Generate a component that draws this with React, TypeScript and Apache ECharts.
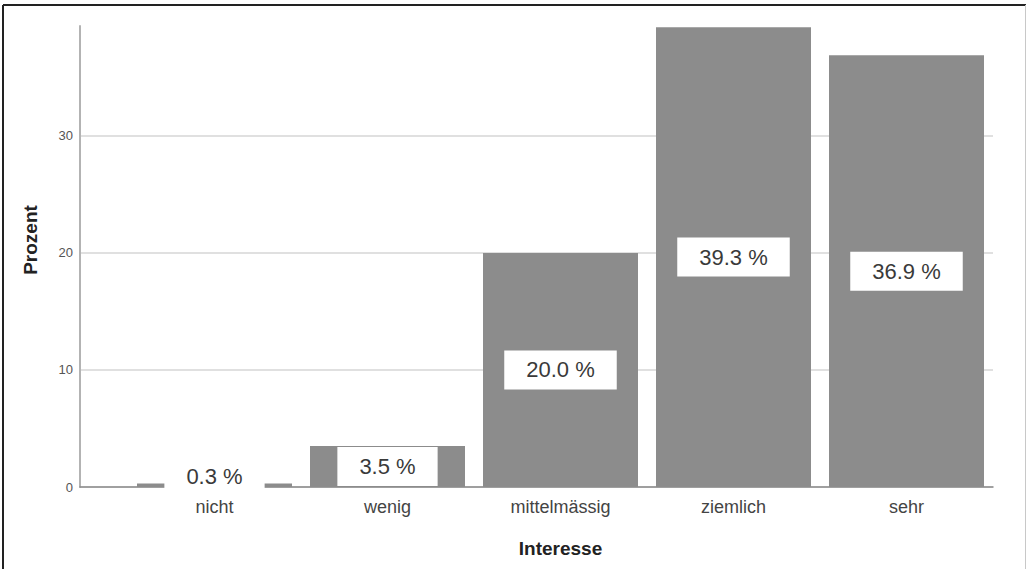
import React, { useEffect, useRef } from "react";
import * as echarts from "echarts";

const categories = ["nicht", "wenig", "mittelmässig", "ziemlich", "sehr"];
const percentValues = [0.3, 3.5, 20.0, 39.3, 36.9];
const yTicks = [0, 10, 20, 30];
const yMax = 39.4;

const FONT = "Liberation Sans, Arial, sans-serif";

export default function App() {
  const ref = useRef<HTMLDivElement>(null);
  useEffect(() => {
    if (!ref.current) return;
    const chart = echarts.init(ref.current, null, { renderer: "svg" });
    const top = 26;
    const bottom = 82;
    const barData = percentValues.map((v, i) =>
      i === 0 ? { value: v, label: { offset: [0, -9] } } : { value: v }
    );
    chart.setOption({
      animation: false,
      backgroundColor: "#ffffff",
      grid: [
        { left: 80, right: 34, top, bottom },
        { left: 128, right: 34, top, bottom },
      ],
      xAxis: [
        {
          gridIndex: 0,
          type: "value",
          min: 0,
          max: 1,
          axisLine: { show: true, onZero: false, lineStyle: { color: "#8a8a8a", width: 1.5 } },
          axisTick: { show: false },
          axisLabel: { show: false },
          splitLine: { show: false },
        },
        {
          gridIndex: 1,
          type: "category",
          data: categories,
          axisLine: { show: false },
          axisTick: { show: false },
          axisLabel: {
            margin: 11,
            fontFamily: FONT,
            fontSize: 18,
            color: "#444444",
          },
          name: "Interesse",
          nameLocation: "middle",
          nameGap: 52,
          nameTextStyle: {
            fontFamily: FONT,
            fontSize: 19,
            fontWeight: "bold",
            color: "#222222",
          },
        },
      ],
      yAxis: [
        {
          gridIndex: 0,
          type: "value",
          min: yTicks[0],
          max: yMax,
          interval: 10,
          axisLine: { show: true, lineStyle: { color: "#b3b3b3", width: 2 } },
          axisTick: { show: false },
          axisLabel: {
            showMaxLabel: false,
            margin: 7,
            fontFamily: FONT,
            fontSize: 13,
            color: "#555555",
            formatter: (v: number) => (yTicks.includes(v) ? String(v) : ""),
          },
          splitLine: {
            show: true,
            showMaxLine: false,
            lineStyle: { color: "#d6d6d6", width: 1.5 },
          },
        },
        {
          gridIndex: 1,
          type: "value",
          min: yTicks[0],
          max: yMax,
          show: false,
        },
      ],
      graphic: [
        {
          type: "text",
          x: 30,
          y: 240,
          rotation: Math.PI / 2,
          style: {
            text: "Prozent",
            fontFamily: FONT,
            fontSize: 19,
            fontWeight: "bold",
            fill: "#222222",
            align: "center",
            verticalAlign: "middle",
          },
        },
        {
          type: "line",
          shape: { x1: 3, y1: 5, x2: 3, y2: 569 },
          style: { stroke: "#222222", lineWidth: 2 },
        },
        {
          type: "line",
          shape: { x1: 3, y1: 5, x2: 1026, y2: 5 },
          style: { stroke: "#222222", lineWidth: 2 },
        },
        {
          type: "line",
          shape: { x1: 1025.5, y1: 5, x2: 1025.5, y2: 569 },
          style: { stroke: "#c8c8c8", lineWidth: 1 },
        },
      ],
      series: [
        {
          type: "bar",
          xAxisIndex: 1,
          yAxisIndex: 1,
          data: barData,
          barWidth: 155,
          itemStyle: { color: "#8c8c8c" },
          z: 3,
          label: {
            show: true,
            position: "inside",
            formatter: (p: any) => Number(p.value).toFixed(1) + " %",
            fontFamily: FONT,
            fontSize: 22,
            color: "#3a3a3a",
            backgroundColor: "#ffffff",
            padding: [9, 22, 8, 22],
          },
        },
      ],
    });
    return () => chart.dispose();
  }, []);
  return (
    <div style={{ position: "fixed", left: 0, top: 0, width: 1027, height: 569, background: "#fff" }}>
      <div ref={ref} style={{ width: 1027, height: 569 }} />
    </div>
  );
}
